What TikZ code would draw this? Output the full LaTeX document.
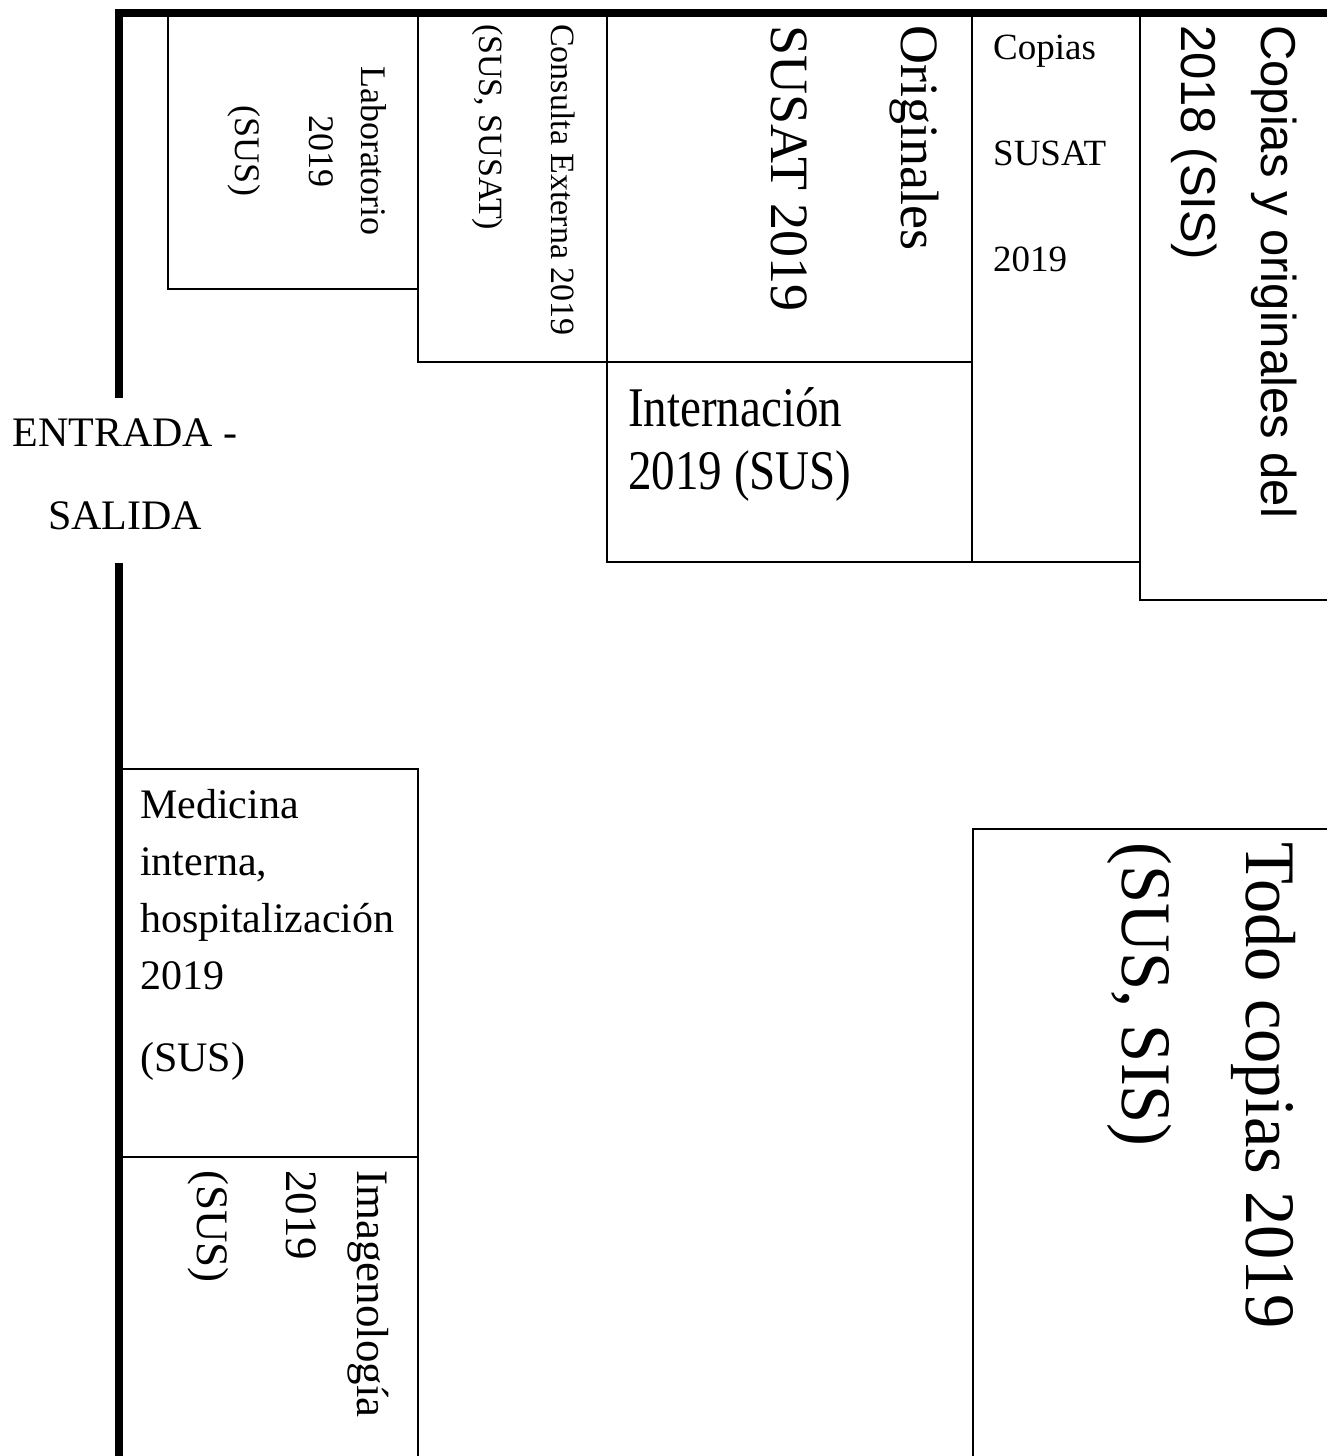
\documentclass[tikz,border=0pt]{standalone}
\usepackage{fontspec}
\setmainfont{Liberation Serif}
\newfontfamily\arialfont{Liberation Sans}
\usetikzlibrary{positioning}
\newcommand{\fsz}[2]{\fontsize{#1pt}{#2pt}\selectfont}
\tikzset{%
	wall/.style     = {line width=8pt}, % thick wall
	room/.style     = {draw, line width=1.6pt}, % shelf
	txt/.style      = {inner sep=0pt, align=left}, % Text
	vtxt/.style     = {inner sep=0pt, align=left, rotate=-90}, % Turned text
	squeeze/.style  = {xscale=#1}, % narrow letters
}

\begin{document}
\begin{tikzpicture}[x=1pt,y=-1pt]
	\useasboundingbox (0,0) rectangle (1327,1456);
	
	\draw[wall] (119,398) -- (119,13) -- (1340,13);
	\draw[wall] (119,563) -- (119,1470);
	
	\draw[room] (168,13) rectangle (418,289);
	\draw[room] (418,13) rectangle (607,362);
	\draw[room] (607,13) rectangle (972,362);
	\draw[room] (607,362) rectangle (972,562);
	\draw[room] (972,13) rectangle (1140,562);
	\draw[room] (1140,13) rectangle (1345,600);
	\draw[room] (119,769) rectangle (418,1157);
	\draw[room] (119,1157) rectangle (418,1470);
	\draw[room] (973,829) rectangle (1345,1470);
	
	\node [vtxt, font=\fsz{36}{52}, align=center, anchor=north] (lab) at (387,151) {Laboratorio\\2019\\[22pt](SUS)};
	\node [vtxt, font=\fsz{34}{72}, anchor=north west] (cons) at (575,24) {Consulta Externa 2019\\(SUS, SUSAT)};
	\node [vtxt, font=\fsz{54}{130}, anchor=north west] (orig) at (939,25) {Originales\\SUSAT 2019};
	\node [txt, squeeze=0.84, font=\fsz{56}{63}, anchor=north west] (intern) at (628,387) {Internación\\2019 (SUS)};
	\node [txt, font=\fsz{37}{106}, anchor=north west] (copsusat) at (993,35) {Copias\\SUSAT\\2019};
	\node [vtxt, font=\arialfont\fsz{49}{80}, anchor=north west] (cop18) at (1297,25) {Copias y originales del\\2018 (SIS)};
	\node [txt, font=\fsz{42}{83}, align=center, anchor=north] (door) at (125,419) {ENTRADA -\\SALIDA};
	\node [txt, font=\fsz{42}{57}, anchor=north west] (med) at (140,789) {Medicina\\interna,\\hospitalización\\2019\\[25pt](SUS)};
	\node [vtxt, font=\fsz{45}{71}, anchor=north west] (imag) at (389,1170) {Imagenología\\2019\\[18pt](SUS)};
	\node [vtxt, squeeze=0.965, font=\fsz{71}{124}, anchor=north west] (todo) at (1296,842) {Todo copias 2019\\(SUS, SIS)};
\end{tikzpicture}
\end{document}
